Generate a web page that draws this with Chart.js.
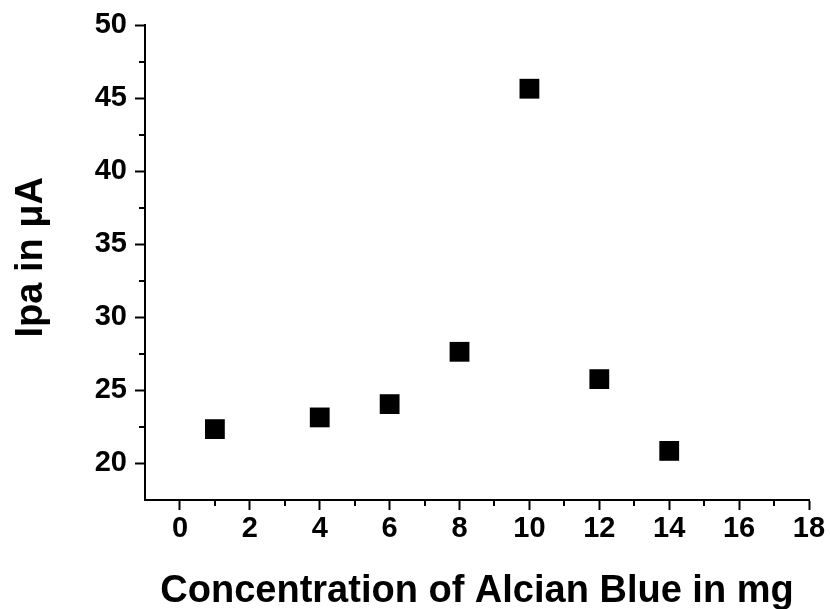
<!DOCTYPE html>
<html>
<head>
<meta charset="utf-8">
<script src="https://cdn.jsdelivr.net/npm/chart.js@4/dist/chart.umd.min.js"></script>
<style>
  html, body { margin: 0; padding: 0; background: #fff; }
  #wrap { width: 830px; height: 609px; }
</style>
</head>
<body>
<div id="wrap"><canvas id="myChart" width="830" height="609"></canvas></div>
<script>
// data
var concentration = [1, 4, 6, 8, 10, 12, 14];
var ipa = [22.35, 23.15, 24.06, 27.64, 45.64, 25.77, 20.86];

var xTicks = [0, 2, 4, 6, 8, 10, 12, 14, 16, 18];
var yTicks = [20, 25, 30, 35, 40, 45, 50];
var xMinor = [1, 3, 5, 7, 9, 11, 13, 15, 17];
var yMinor = [22.5, 27.5, 32.5, 37.5, 42.5, 47.5];

var points = concentration.map(function (c, i) { return { x: c, y: ipa[i] }; });

// chart.js has no minor ticks, so draw the small ones here
var minorTicks = {
    id: 'minorTicks',
    afterDraw: function (chart) {
        var ctx = chart.ctx;
        var xs = chart.scales.x, ys = chart.scales.y;
        ctx.save();
        ctx.strokeStyle = '#000';
        ctx.lineWidth = 2;
        ctx.beginPath();
        xMinor.forEach(function (v) {
            var px = Math.round(xs.getPixelForValue(v));
            ctx.moveTo(px, xs.top);
            ctx.lineTo(px, xs.top + 6);
        });
        yMinor.forEach(function (v) {
            var py = Math.round(ys.getPixelForValue(v));
            ctx.moveTo(ys.right, py);
            ctx.lineTo(ys.right - 6, py);
        });
        ctx.stroke();
        ctx.restore();
    }
};

var tickFont = { family: 'Liberation Sans, Arial, sans-serif', size: 29, weight: 'bold', lineHeight: 1 };
var titleFont = { family: 'Liberation Sans, Arial, sans-serif', size: 38, weight: 'bold', lineHeight: 1 };

var ctx = document.getElementById('myChart').getContext('2d');
var chart = new Chart(ctx, {
    type: 'scatter',
    data: {
        datasets: [{
            label: 'Ipa',
            data: points,
            pointStyle: 'rect',
            pointRadius: 14,
            pointHoverRadius: 14,
            backgroundColor: '#000',
            borderColor: '#000',
            borderWidth: 0
        }]
    },
    plugins: [minorTicks],
    options: {
        responsive: false,
        animation: false,
        layout: { padding: { top: 25, right: 21, left: 0, bottom: 0 } },
        plugins: {
            legend: { display: false },
            tooltip: { enabled: false }
        },
        scales: {
            x: {
                type: 'linear',
                min: -1,
                max: 18,
                afterBuildTicks: function (scale) {
                    scale.ticks = xTicks.map(function (v) { return { value: v }; });
                },
                afterFit: function (scale) { scale.height = 109; },
                grid: {
                    drawOnChartArea: false,
                    drawTicks: true,
                    tickLength: 10,
                    tickWidth: 2,
                    tickColor: '#000'
                },
                border: { display: true, color: '#000', width: 2 },
                ticks: {
                    color: '#000',
                    font: tickFont,
                    padding: 4,
                    maxRotation: 0,
                    autoSkip: false
                },
                title: {
                    display: true,
                    text: 'Concentration of Alcian Blue in mg',
                    color: '#000',
                    font: titleFont,
                    padding: { top: 0, bottom: -2 }
                }
            },
            y: {
                type: 'linear',
                min: 17.5,
                max: 50,
                afterBuildTicks: function (scale) {
                    scale.ticks = yTicks.map(function (v) { return { value: v }; });
                },
                afterFit: function (scale) { scale.width = 145; },
                grid: {
                    drawOnChartArea: false,
                    drawTicks: true,
                    tickLength: 10,
                    tickWidth: 2,
                    tickColor: '#000'
                },
                border: { display: true, color: '#000', width: 2 },
                ticks: {
                    color: '#000',
                    font: tickFont,
                    padding: 8,
                    autoSkip: false
                },
                title: {
                    display: true,
                    text: ' Ipa in \u03bcA',
                    color: '#000',
                    font: titleFont,
                    padding: { top: 13, bottom: 0 }
                }
            }
        }
    }
});
</script>
</body>
</html>
